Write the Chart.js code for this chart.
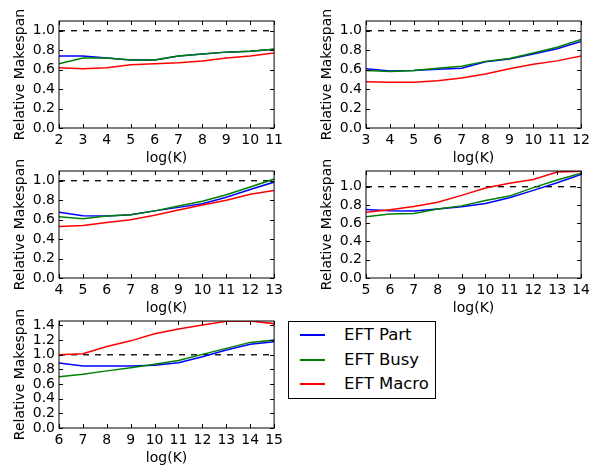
<!DOCTYPE html>
<html>
<head>
<meta charset="utf-8">
<script src="https://cdn.jsdelivr.net/npm/chart.js@4.4.1/dist/chart.umd.min.js"></script>
<style>
  body { margin: 0; background: #fff; }
  #wrap { position: relative; width: 594px; height: 469px; overflow: hidden; }
  canvas { position: absolute; }
  #legend {
    position: absolute; left: 288px; top: 321px; width: 146px; height: 76px;
    border: 1px solid #000; background: #fff;
    font-family: "DejaVu Sans", sans-serif; font-size: 16.5px; color: #000;
  }
  .item { position: absolute; left: 0; height: 20px; width: 146px; }
  .item .sw { position: absolute; left: 11px; top: 9px; width: 25px; height: 2px; }
  .item .tx { position: absolute; left: 55px; top: 0; white-space: nowrap; line-height: 20px; }
</style>
</head>
<body>
<div id="wrap">
  <div id="legend"></div>
</div>
<script>
// series names
const seriesNames = ["EFT Part", "EFT Busy", "EFT Macro"];
const seriesColors = ["#0000ff", "#008000", "#ff0000"];

// panel 1
const logK1 = [2, 3, 4, 5, 6, 7, 8, 9, 10, 11];
const part1 = [0.74, 0.74, 0.72, 0.70, 0.70, 0.74, 0.76, 0.78, 0.79, 0.81];
const busy1 = [0.66, 0.72, 0.72, 0.70, 0.70, 0.74, 0.76, 0.78, 0.79, 0.81];
const macro1 = [0.62, 0.61, 0.62, 0.65, 0.66, 0.67, 0.69, 0.72, 0.74, 0.77];

// panel 2
const logK2 = [3, 4, 5, 6, 7, 8, 9, 10, 11, 12];
const part2 = [0.61, 0.585, 0.59, 0.605, 0.615, 0.68, 0.71, 0.76, 0.815, 0.89];
const busy2 = [0.59, 0.58, 0.59, 0.615, 0.635, 0.685, 0.715, 0.77, 0.83, 0.91];
const macro2 = [0.475, 0.47, 0.47, 0.485, 0.515, 0.555, 0.61, 0.655, 0.69, 0.74];

// panel 3
const logK3 = [4, 5, 6, 7, 8, 9, 10, 11, 12, 13];
const part3 = [0.675, 0.64, 0.637, 0.65, 0.69, 0.726, 0.764, 0.83, 0.91, 0.986];
const busy3 = [0.63, 0.61, 0.637, 0.65, 0.69, 0.74, 0.79, 0.856, 0.935, 1.017];
const macro3 = [0.53, 0.54, 0.57, 0.60, 0.645, 0.70, 0.75, 0.80, 0.86, 0.90];

// panel 4
const logK4 = [5, 6, 7, 8, 9, 10, 11, 12, 13, 14];
const part4 = [0.75, 0.736, 0.733, 0.755, 0.78, 0.817, 0.88, 0.96, 1.044, 1.135];
const busy4 = [0.67, 0.70, 0.707, 0.755, 0.79, 0.85, 0.897, 0.99, 1.073, 1.147];
const macro4 = [0.72, 0.747, 0.784, 0.83, 0.905, 0.985, 1.037, 1.08, 1.16, 1.17];

// panel 5
const logK5 = [6, 7, 8, 9, 10, 11, 12, 13, 14, 15];
const part5 = [0.886, 0.845, 0.845, 0.845, 0.858, 0.89, 0.973, 1.064, 1.142, 1.178];
const busy5 = [0.70, 0.735, 0.78, 0.822, 0.872, 0.922, 1.005, 1.087, 1.169, 1.2];
const macro5 = [1.0, 1.014, 1.114, 1.19, 1.288, 1.352, 1.406, 1.457, 1.461, 1.425];

// y ticks and reference level
const yTicksA = [0.0, 0.2, 0.4, 0.6, 0.8, 1.0];
const yTicksB = [0.0, 0.2, 0.4, 0.6, 0.8, 1.0, 1.2, 1.4];
const refLevel = 1.0;

const panels = [
  { k: logK1, s: [part1, busy1, macro1], yMax: 1.1, yTicks: yTicksA, left: 59, top: 21 },
  { k: logK2, s: [part2, busy2, macro2], yMax: 1.1, yTicks: yTicksA, left: 366, top: 21 },
  { k: logK3, s: [part3, busy3, macro3], yMax: 1.1, yTicks: yTicksA, left: 59, top: 171 },
  { k: logK4, s: [part4, busy4, macro4], yMax: 1.172, yTicks: yTicksA, left: 366, top: 171 },
  { k: logK5, s: [part5, busy5, macro5], yMax: 1.461, yTicks: yTicksB, left: 59, top: 321 },
];

const plotW = 218, plotH = 107;
const axisW = 59, padTop = 21, padRight = 10, axisH = 45;
const font = { family: "DejaVu Sans", size: 14 };

// matplotlib-style frame with inward ticks on all four sides
const frameTicks = {
  id: "frameTicks",
  afterDraw(chart) {
    const { ctx, chartArea: a, scales: { x, y } } = chart;
    ctx.save();
    ctx.strokeStyle = "#000";
    ctx.lineWidth = 1;
    ctx.strokeRect(a.left, a.top, a.right - a.left, a.bottom - a.top);
    ctx.beginPath();
    x.ticks.forEach((t) => {
      const px = Math.round(x.getPixelForValue(t.value)) + 0.5;
      ctx.moveTo(px, a.bottom); ctx.lineTo(px, a.bottom - 4);
      ctx.moveTo(px, a.top); ctx.lineTo(px, a.top + 4);
    });
    y.ticks.forEach((t) => {
      const py = Math.round(y.getPixelForValue(t.value)) + 0.5;
      ctx.moveTo(a.left, py); ctx.lineTo(a.left + 4, py);
      ctx.moveTo(a.right, py); ctx.lineTo(a.right - 4, py);
    });
    ctx.stroke();
    ctx.restore();
  },
};

const wrap = document.getElementById("wrap");

panels.forEach((p) => {
  const cv = document.createElement("canvas");
  const w = axisW + plotW + padRight, h = padTop + plotH + axisH;
  cv.width = w; cv.height = h;
  cv.style.left = (p.left - axisW) + "px";
  cv.style.top = (p.top - padTop) + "px";
  wrap.insertBefore(cv, document.getElementById("legend"));

  const datasets = p.s.map((vals, i) => ({
    label: seriesNames[i],
    data: p.k.map((k, j) => ({ x: k, y: vals[j] })),
    borderColor: seriesColors[i],
    borderWidth: 1.5,
    pointRadius: 0,
    tension: 0,
    order: 3 - i,
  }));
  datasets.push({
    label: "ref",
    data: [{ x: p.k[0], y: refLevel }, { x: p.k[p.k.length - 1], y: refLevel }],
    borderColor: "#000",
    borderWidth: 1.3,
    borderDash: [6, 6],
    pointRadius: 0,
    order: 10,
  });

  new Chart(cv, {
    type: "line",
    data: { datasets },
    options: {
      responsive: false,
      animation: false,
      events: [],
      layout: { padding: { top: padTop, right: padRight, left: 0, bottom: 0 } },
      plugins: { legend: { display: false }, tooltip: { enabled: false } },
      scales: {
        x: {
          type: "linear",
          min: p.k[0],
          max: p.k[p.k.length - 1],
          grid: { display: false, drawTicks: false },
          border: { display: false },
          afterBuildTicks: (s) => { s.ticks = p.k.map((v) => ({ value: v })); },
          afterFit: (s) => { s.height = axisH; },
          ticks: { color: "#000", font, padding: 4, maxRotation: 0, autoSkip: false },
          title: { display: true, text: "log(K)", color: "#000", font, padding: { top: 0, bottom: 6 } },
        },
        y: {
          type: "linear",
          min: 0,
          max: p.yMax,
          grid: { display: false, drawTicks: false },
          border: { display: false },
          afterBuildTicks: (s) => { s.ticks = p.yTicks.map((v) => ({ value: v })); },
          afterFit: (s) => { s.width = axisW; },
          ticks: { color: "#000", font, padding: 4, autoSkip: false, callback: (v) => Number(v).toFixed(1) },
          title: { display: true, text: "Relative Makespan", color: "#000", font, padding: { top: 12, bottom: 0 } },
        },
      },
    },
    plugins: [frameTicks],
  });
});

// legend
const legend = document.getElementById("legend");
seriesNames.forEach((name, i) => {
  const it = document.createElement("div");
  it.className = "item";
  it.style.top = (3 + i * 24.5) + "px";
  const sw = document.createElement("div");
  sw.className = "sw";
  sw.style.background = seriesColors[i];
  const tx = document.createElement("div");
  tx.className = "tx";
  tx.textContent = name;
  it.appendChild(sw);
  it.appendChild(tx);
  legend.appendChild(it);
});
</script>
</body>
</html>
